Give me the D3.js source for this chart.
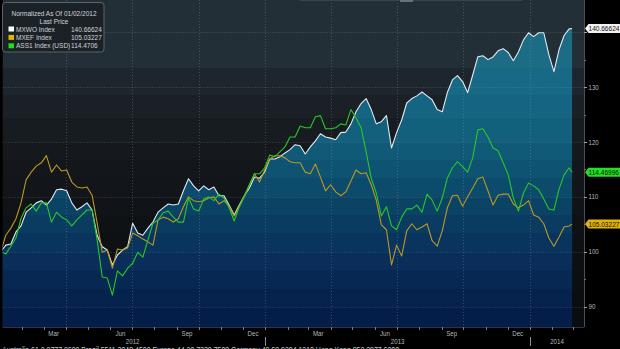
<!DOCTYPE html>
<html><head><meta charset="utf-8">
<script src="https://cdn.jsdelivr.net/npm/d3@7"></script>
<style>html,body{margin:0;padding:0;background:#000;overflow:hidden}svg{display:block}</style>
</head><body><svg id="chart" width="620" height="349"></svg>
<script>
// Weekly closes (Mondays) from 2 Jan 2012, plus the last close on 28 Feb 2014.
const weekStart = new Date(2012, 0, 2);
const weekEnd = new Date(2014, 1, 25);
const lastDate = new Date(2014, 1, 28);

// MXWO Index, normalized to 100 on 01/02/2012
const mxwo = [100, 101.2, 101.4, 103.6, 104.7, 107.2, 108.0, 108.9, 109.3, 108.5,
  109.6, 111.3, 111.4, 111.1, 108.9, 107.6, 108.2, 108.9, 107.6, 103.0,
  100.9, 100.3, 97.6, 99.4, 100.3, 100.9, 105.2, 103.4, 103.0, 104.3,
  105.4, 107.2, 108.0, 108.7, 108.5, 108.7, 111.1, 113.3, 112.0, 111.1,
  112.0, 111.3, 111.8, 110.2, 110.2, 108.5, 106.7, 108.5, 110.2, 111.6,
  113.6, 113.4, 114.5, 116.9, 116.9, 117.3, 118.0, 118.6, 119.5, 119.3,
  117.8, 119.1, 120.2, 121.5, 120.9, 120.7, 120.4, 121.7, 121.8, 123.3,
  125.5, 127.0, 127.9, 125.9, 123.3, 123.7, 124.8, 118.9, 121.7, 124.0,
  127.1, 127.9, 128.4, 129.1, 128.4, 127.7, 125.9, 125.5, 129.0, 131.3,
  132.1, 131.0, 129.0, 132.2, 135.5, 135.7, 135.0, 135.5, 136.6, 137.0,
  136.3, 134.8, 136.4, 138.6, 139.9, 139.2, 139.9, 139.9, 135.9, 132.8,
  136.8, 139.4, 140.6, 140.66624];

// MXEF Index
const mxef = [100, 103.0, 104.3, 106.0, 108.9, 113.1, 114.5, 115.6, 116.2, 117.5,
  114.5, 115.8, 114.7, 114.9, 112.7, 111.8, 111.6, 111.8, 110.3, 105.2,
  99.9, 100.3, 97.0, 100.5, 100.3, 100.7, 103.4, 102.9, 102.3, 101.8,
  101.2, 105.8, 106.3, 106.0, 105.4, 106.0, 108.2, 110.0, 109.3, 109.1,
  109.3, 109.8, 110.0, 108.7, 109.3, 108.3, 106.5, 108.2, 110.2, 112.2,
  114.2, 112.7, 114.9, 116.9, 117.5, 117.5, 117.1, 116.4, 116.2, 116.2,
  114.5, 114.2, 116.0, 113.6, 111.1, 112.2, 110.9, 110.2, 110.9, 112.9,
  114.9, 114.2, 114.4, 112.2, 109.4, 104.9, 104.0, 97.6, 101.2, 99.2,
  103.8, 105.1, 104.0, 104.5, 105.1, 102.0, 101.0, 103.8, 108.0, 110.2,
  110.3, 108.3, 110.0, 111.6, 113.3, 113.6, 111.1, 108.5, 110.3, 110.5,
  110.5, 108.7, 108.0, 108.5, 109.3, 106.7, 106.3, 105.1, 102.5, 101.0,
  102.7, 104.5, 104.7, 105.03227];

// ASS1 Index (USD)
const ass1 = [100, 99.6, 101.0, 102.5, 106.1, 108.0, 108.7, 107.4, 108.9, 108.9,
  105.4, 107.2, 106.3, 105.8, 104.7, 105.8, 106.7, 107.6, 107.6, 102.1,
  95.4, 95.2, 92.1, 96.5, 95.6, 97.0, 97.9, 99.9, 99.0, 102.1,
  105.2, 105.8, 107.1, 107.4, 106.3, 105.4, 105.4, 109.8, 107.8, 107.4,
  109.6, 110.0, 109.3, 110.5, 109.8, 108.0, 105.6, 108.2, 110.0, 112.2,
  114.2, 114.2, 115.3, 117.6, 117.3, 118.2, 119.1, 120.9, 120.9, 122.9,
  122.6, 122.6, 124.6, 124.8, 122.4, 122.4, 122.6, 123.3, 123.1, 125.9,
  124.4, 122.6, 118.2, 113.4, 110.7, 106.5, 108.2, 104.7, 104.0, 106.3,
  107.8, 107.8, 108.5, 107.2, 110.5, 109.4, 107.4, 109.8, 113.4, 115.3,
  116.4, 115.5, 114.5, 117.1, 122.2, 122.4, 120.9, 118.9, 118.4, 116.2,
  114.0, 109.8, 107.4, 110.7, 112.5, 112.0, 111.3, 109.6, 107.8, 107.6,
  111.4, 114.0, 115.3, 114.46996];

const seriesNames = ["MXWO Index", "MXEF Index", "ASS1 Index (USD)"];
const legendValues = ["140.66624", "105.03227", "114.4706"];
const tagValues = ["140.66624", "105.03227", "114.46996"];
const yTicks = [90, 100, 110, 120, 130, 140];
const yMinorTicks = [95, 105, 115, 125, 135];
const monthLabels = ["Mar", "Jun", "Sep", "Dec"];
const yearLabels = ["2012", "2013", "2014"];
const footer = "Australia 61 2 9777 8600 Brazil 5511 3048 4500 Europe 44 20 7330 7500 Germany 49 69 9204 1210 Hong Kong 852 2977 6000";

const dates = d3.timeMonday.range(weekStart, weekEnd).concat([lastDate]);

const W = 620, H = 349;
const plotL = 2.5, plotR = 584, plotT = 0, plotB = 327;
const FONT = "'Liberation Sans',Arial,sans-serif";
const NARROW = 0.82; // horizontal squeeze for the terminal-style lettering

const x = d3.scaleTime().domain([new Date(2012, 0, 1), new Date(2014, 0, 1)]).range([0, 530]);
const y = d3.scaleLinear().domain([90, 140]).range([306.6, 32.2]);

const svg = d3.select("#chart");
svg.append("rect").attr("width", W).attr("height", H).attr("fill", "#000");

// Narrow text placed at (tx, ty)
function ntext(sel, tx, ty, sx = NARROW) {
  return sel.attr("transform", (d, i) => {
    const px = typeof tx === "function" ? tx(d, i) : tx;
    const py = typeof ty === "function" ? ty(d, i) : ty;
    return `translate(${px},${py}) scale(${sx},1)`;
  });
}

const defs = svg.append("defs");
defs.append("clipPath").attr("id", "plotClip")
  .append("rect").attr("x", plotL).attr("y", plotT).attr("width", plotR - plotL).attr("height", plotB - plotT);

// Stepped horizontal bands for the backdrop and for the area under MXWO
const bandEdges = [0, 68, 95, 118, 142, 160, 178, 197, 215, 233, 252, 270, 289, 307, 327];
const bgBands = ["#232f37", "#1e262d", "#1a2026", "#171c21", "#15191d", "#13171b", "#121519",
  "#101317", "#0f1215", "#0e1114", "#0d1013", "#0c0f12", "#0b0e11", "#0a0d10"];
const fillBands = ["#1c6c86", "#186985", "#156582", "#12607c", "#105a77", "#0e5371", "#0c4b6b",
  "#0b4365", "#0a3b61", "#09345d", "#082e59", "#072853", "#06234e", "#051e49"];

function bandGradient(id, colors) {
  const g = defs.append("linearGradient").attr("id", id)
    .attr("gradientUnits", "userSpaceOnUse")
    .attr("x1", 0).attr("y1", plotT).attr("x2", 0).attr("y2", plotB);
  colors.forEach((c, i) => {
    g.append("stop").attr("offset", bandEdges[i] / plotB).attr("stop-color", c);
    g.append("stop").attr("offset", bandEdges[i + 1] / plotB).attr("stop-color", c);
  });
}
bandGradient("bgGrad", bgBands);
bandGradient("fillGrad", fillBands);

const plot = svg.append("g").attr("clip-path", "url(#plotClip)");
plot.append("rect").attr("x", plotL).attr("y", plotT)
  .attr("width", plotR - plotL).attr("height", plotB - plotT).attr("fill", "url(#bgGrad)");

const pts = s => s.map((v, i) => [dates[i], v]);

const area = d3.area().x(d => x(d[0])).y0(plotB).y1(d => y(d[1]));
plot.append("path").datum(pts(mxwo)).attr("d", area).attr("fill", "url(#fillGrad)");

// Dotted grid: quarter boundaries and every 10 index points
const quarterLines = d3.timeMonth.every(3).range(new Date(2012, 3, 1), new Date(2014, 2, 1));
plot.append("g").selectAll("line").data(quarterLines).join("line")
  .attr("x1", d => Math.round(x(d)) + 0.5).attr("x2", d => Math.round(x(d)) + 0.5)
  .attr("y1", plotT).attr("y2", plotB)
  .attr("stroke", "#8a9aa8").attr("stroke-opacity", 0.35).attr("stroke-dasharray", "1,2");
plot.append("g").selectAll("line").data(yTicks).join("line")
  .attr("x1", plotL).attr("x2", plotR)
  .attr("y1", d => Math.round(y(d)) + 0.5).attr("y2", d => Math.round(y(d)) + 0.5)
  .attr("stroke", "#8a9aa8").attr("stroke-opacity", 0.35).attr("stroke-dasharray", "1,2");

const line = d3.line().x(d => x(d[0])).y(d => y(d[1]));
const lineColors = ["#e2e9f0", "#bb9826", "#28c828"];
[mxwo, mxef, ass1].forEach((s, i) => {
  plot.append("path").datum(pts(s)).attr("d", line)
    .attr("fill", "none").attr("stroke", lineColors[i]).attr("stroke-width", 1.1)
    .attr("stroke-linejoin", "round");
});

// Frame
svg.append("line").attr("x1", plotR + 0.5).attr("x2", plotR + 0.5).attr("y1", 0).attr("y2", plotB)
  .attr("stroke", "#4a4f55");
svg.append("line").attr("x1", plotL).attr("x2", plotR).attr("y1", plotB + 0.5).attr("y2", plotB + 0.5)
  .attr("stroke", "#2c3440");
svg.append("line").attr("x1", 300).attr("x2", 522).attr("y1", 0.5).attr("y2", 0.5).attr("stroke", "#3c434b");
svg.append("rect").attr("x", 400).attr("y", 0).attr("width", 13).attr("height", 2).attr("fill", "#6a7078");

// Right value axis (the 140 label sits under the MXWO price tag)
const lastVals = [mxwo, mxef, ass1].map(s => s[s.length - 1]);
const yAxis = svg.append("g").attr("font-family", FONT).attr("font-size", "7.5px");
yAxis.selectAll("line.major").data(yTicks).join("line").attr("class", "major")
  .attr("x1", plotR).attr("x2", plotR + 3)
  .attr("y1", d => Math.round(y(d)) + 0.5).attr("y2", d => Math.round(y(d)) + 0.5).attr("stroke", "#9aa0a6");
yAxis.selectAll("line.minor").data(yMinorTicks).join("line").attr("class", "minor")
  .attr("x1", plotR).attr("x2", plotR + 2)
  .attr("y1", d => Math.round(y(d)) + 0.5).attr("y2", d => Math.round(y(d)) + 0.5).attr("stroke", "#6a7076");
ntext(yAxis.selectAll("text").data(yTicks.filter(t => lastVals.every(v => Math.abs(y(v) - y(t)) > 6))).join("text"),
  plotR + 4.5, d => y(d))
  .attr("dy", "0.35em").attr("fill", "#b4b8bc").text(d => d);

// Last-price tags
const tagFill = ["#f2f2f2", "#e2b400", "#22e022"];
const tags = svg.append("g").attr("font-family", FONT).attr("font-size", "8px");
lastVals.forEach((v, i) => {
  const ty = y(v);
  tags.append("path")
    .attr("d", `M${plotR + 1},${ty} L${plotR + 4.5},${ty - 4.5} L620,${ty - 4.5} L620,${ty + 4.5} L${plotR + 4.5},${ty + 4.5} Z`)
    .attr("fill", tagFill[i]);
  ntext(tags.append("text"), plotR + 4.5, ty).attr("dy", "0.35em")
    .attr("fill", "#111").text(tagValues[i]);
});

// Time axis: month ticks, quarter labels, years
const xAxis = svg.append("g").attr("font-family", FONT).attr("font-size", "7.5px").attr("fill", "#b4b8bc");
const months = d3.timeMonth.range(new Date(2012, 1, 1), new Date(2014, 2, 2));
xAxis.selectAll("line.m").data(months).join("line").attr("class", "m")
  .attr("x1", d => Math.round(x(d)) + 0.5).attr("x2", d => Math.round(x(d)) + 0.5)
  .attr("y1", plotB).attr("y2", plotB + 3).attr("stroke", "#7a8086");
const labelMonths = [];
[2012, 2013].forEach(yr => [2, 5, 8, 11].forEach((m, j) => labelMonths.push({ d: new Date(yr, m, 15), t: monthLabels[j] })));
ntext(xAxis.selectAll("text.m").data(labelMonths).join("text").attr("class", "m"), d => x(d.d), 335.5)
  .attr("text-anchor", "middle").text(d => d.t);
const yearStarts = [new Date(2012, 0, 1), new Date(2013, 0, 1), new Date(2014, 0, 1)];
const yearMids = [(x(yearStarts[0]) + x(yearStarts[1])) / 2, (x(yearStarts[1]) + x(yearStarts[2])) / 2, (x(yearStarts[2]) + plotR) / 2];
ntext(xAxis.selectAll("text.y").data(yearLabels).join("text").attr("class", "y"), (d, i) => yearMids[i], 344)
  .attr("text-anchor", "middle").text(d => d);
xAxis.selectAll("line.y").data(yearStarts.slice(1)).join("line").attr("class", "y")
  .attr("x1", d => Math.round(x(d)) + 0.5).attr("x2", d => Math.round(x(d)) + 0.5)
  .attr("y1", 337).attr("y2", 346).attr("stroke", "#8a9096");

// Contact line along the bottom edge, mostly below the visible area
ntext(svg.append("text"), 2, 352.5).attr("font-family", FONT).attr("font-size", "8.5px")
  .attr("fill", "#c8ccd0").text(footer);

// Legend
const LS = 0.87;
const lg = svg.append("g").attr("font-family", FONT).attr("font-size", "7.5px").attr("fill", "#d0d4d8");
lg.append("rect").attr("x", 2.5).attr("y", 2.5).attr("width", 101.5).attr("height", 49.5).attr("rx", 3)
  .attr("fill", "#1b2227").attr("stroke", "#5c636a");
ntext(lg.append("text"), 54, 15.5, LS).attr("text-anchor", "middle").text("Normalized As Of 01/02/2012");
ntext(lg.append("text"), 54, 23.5, LS).attr("text-anchor", "middle").text("Last Price");
const legendSwatch = ["#ffffff", "#e2b400", "#1ee01e"];
seriesNames.forEach((n, i) => {
  const by = 31.5 + i * 8.4;
  lg.append("rect").attr("x", 8.5).attr("y", by - 5).attr("width", 5.5).attr("height", 5).attr("fill", legendSwatch[i]);
  ntext(lg.append("text"), 16, by, LS).text(n);
  ntext(lg.append("text"), 71, by, LS).text(legendValues[i]);
});
</script></body></html>
